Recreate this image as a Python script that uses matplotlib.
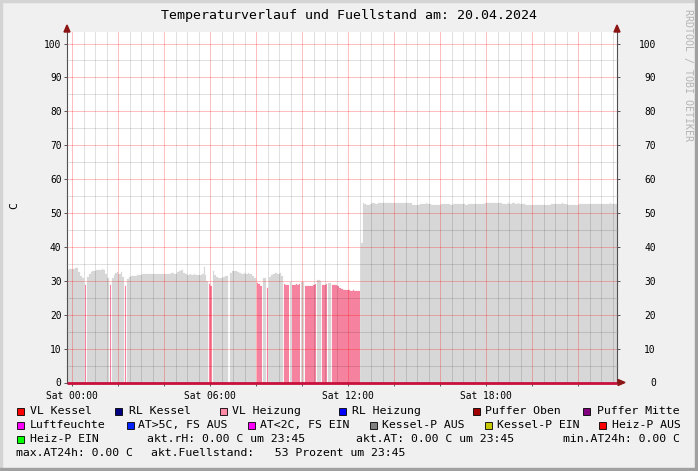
import numpy as np
import matplotlib
matplotlib.use('Agg')
import matplotlib.pyplot as plt
from matplotlib.patches import Rectangle, Polygon
from matplotlib.ticker import MultipleLocator

W, H = 698, 471
MONO = 'DejaVu Sans Mono'

titel = 'Temperaturverlauf und Fuellstand am: 20.04.2024'

# 5-Minuten-Werte ab 23:45 Vortag (Stunden relativ zu Sat 00:00)
start_h = -0.25
schritt_h = 5 / 60

# Zustand je Lauf: g = Kessel-P AUS (grau), p = VL Heizung (rosa), . = Luecke
lauf_zustand = ['g', 'p', 'g', 'p', 'g', 'p', 'g', 'p', 'g', '.', 'g', 'p', 'g',
                'p', 'g', 'p', 'g', 'p', 'g', 'p', 'g', 'p', 'g', 'p', 'g']
lauf_laenge = [9, 1, 12, 1, 7, 1, 43, 2, 8, 1, 14, 3, 2,
               1, 8, 3, 1, 5, 2, 6, 3, 3, 2, 15, 134]

# Temperatur (C) je 5-Minuten-Schritt
pegel = [
    33.6, 33.8, 33.8, 33.9, 34.1, 34.0, 33.0, 31.8, 31.2,
    29.2,
    31.5, 32.4, 32.9, 33.1, 33.2, 33.4, 33.5, 33.6, 33.7, 33.4, 32.3, 31.2,
    29.2,
    31.0, 32.0, 32.6, 32.8, 32.3, 32.8, 31.5,
    28.8,
    30.8, 31.3, 31.6, 31.7, 31.8, 31.9, 31.9, 32.0, 32.2, 32.2, 32.3, 32.3,
    32.2, 32.2, 32.3, 32.2, 32.3, 32.4, 32.3, 32.4, 32.3, 32.4, 32.2, 32.5,
    32.6, 32.4, 32.8, 33.3, 33.4, 33.9, 32.6, 32.3, 32.1, 32.2, 32.1, 32.2,
    32.0, 32.1, 31.9, 32.3, 34.5, 32.0, 30.2,
    29.3, 28.8,
    33.3, 32.0, 31.3, 31.0, 31.2, 31.5, 31.8, 31.6,
    np.nan,
    32.6, 33.1, 33.2, 33.2, 33.0, 32.6, 32.4, 32.5, 32.4, 32.5, 32.4, 32.2, 31.8, 31.0,
    29.5, 29.3, 28.8,
    31.0, 31.2,
    28.2,
    31.5, 31.9, 32.2, 32.5, 32.7, 32.4, 32.6, 31.8,
    29.3, 29.2, 29.0,
    30.0,
    29.2, 29.0, 29.3, 29.2, 29.4,
    29.8, 29.9,
    28.8, 28.9, 28.9, 28.9, 29.1, 29.3,
    30.4, 30.6, 30.3,
    29.2, 29.0, 29.3,
    29.5, 29.6,
    29.2, 29.1, 29.0, 28.9, 28.3, 27.9, 27.7, 27.6, 27.5, 27.5, 27.4, 27.5, 27.4, 27.3, 27.4,
    41.5,
    53.1, 53.0, 52.8, 52.8, 52.9,
    53.1, 53.1, 53.0, 53.1, 53.2, 53.1, 53.1,
    53.2, 53.2, 53.3, 53.2, 53.2, 53.3, 53.2, 53.2, 53.2, 53.3, 53.2, 53.2, 53.1, 53.2,
    52.8, 52.7, 52.7, 52.8, 52.9,
    53.0, 53.0, 53.1, 53.0, 52.9,
    52.7, 52.6, 52.6, 52.7, 52.8,
    52.9, 52.9, 53.0, 52.9, 52.9, 52.8, 52.9, 53.0, 52.9, 52.9, 52.9, 53.0,
    52.9, 52.8, 52.9, 52.9, 53.0, 53.0, 52.9, 52.9, 53.0, 52.9, 53.0,
    53.1, 53.1, 53.2, 53.1, 53.1, 53.1, 53.2, 53.1, 53.1, 53.0, 53.0, 52.9,
    53.1, 53.0, 53.1, 53.1, 53.0, 53.1, 53.0, 52.9, 52.9, 52.8, 52.8,
    52.7, 52.7, 52.6, 52.7, 52.7, 52.8, 52.7, 52.6, 52.7, 52.7, 52.8, 52.9,
    53.0, 53.0, 52.9, 53.0, 53.0, 53.1, 53.0, 52.9, 52.8,
    52.7, 52.7, 52.8, 52.7, 52.8,
    53.0, 53.0, 52.9, 53.0, 53.0, 53.0, 52.9, 53.0, 53.0, 53.1,
    53.0, 53.0, 52.9, 53.0, 53.0, 53.0, 53.1, 53.0, 53.0, 53.0,
]

# uebrige Fuehler stehen laut Legende auf 0.00 C
nullreihe_wert = 0.0

x_gitter = list(range(0, 24, 2))
x_labels = {0: 'Sat 00:00', 6: 'Sat 06:00', 12: 'Sat 12:00', 18: 'Sat 18:00'}

legende = [
    # (Zeile, x-Kaestchen, Farbe oder None, Text, x-Text)
    (0, 17, '#ff0000', 'VL Kessel', 30),
    (0, 115, '#000080', 'RL Kessel', 129),
    (0, 220, '#ff8aa8', 'VL Heizung', 232),
    (0, 339, '#0000ff', 'RL Heizung', 352),
    (0, 473, '#a00000', 'Puffer Oben', 485),
    (0, 583, '#800080', 'Puffer Mitte', 597),
    (1, 17, '#ff00ff', 'Luftfeuchte', 30),
    (1, 127, '#0022ff', 'AT>5C, FS AUS', 138),
    (1, 248, '#ff00ff', 'AT<2C, FS EIN', 260),
    (1, 370, '#808080', 'Kessel-P AUS', 382),
    (1, 485, '#c8c800', 'Kessel-P EIN', 497),
    (1, 599, '#ff0000', 'Heiz-P AUS', 612),
    (2, 17, '#00ff00', 'Heiz-P EIN', 30),
    (2, None, None, 'akt.rH: 0.00 C um 23:45', 147),
    (2, None, None, 'akt.AT: 0.00 C um 23:45', 356),
    (2, None, None, 'min.AT24h: 0.00 C', 563),
    (3, None, None, 'max.AT24h: 0.00 C', 16),
    (3, None, None, 'akt.Fuellstand:   53 Prozent um 23:45', 151),
]
zeilen_y = [411, 425, 439, 453]

farbe = {'g': '#d7d7d7', 'p': '#f5829e'}


def fx(x):
    return x / W


def fy(y):
    return 1 - y / H


fig = plt.figure(figsize=(W / 100, H / 100), dpi=100, facecolor='#f0f0f0')

# Rahmen
fig.patches.append(Rectangle((0, 0), fx(2), 1, transform=fig.transFigure, color='#d4d4d4', zorder=0))
fig.patches.append(Rectangle((0, fy(2)), 1, 2 / H, transform=fig.transFigure, color='#d4d4d4', zorder=0))
fig.patches.append(Rectangle((fx(695), 0), fx(3), 1, transform=fig.transFigure, color='#a0a0a0', zorder=0))
fig.patches.append(Rectangle((0, 0), 1, 3 / H, transform=fig.transFigure, color='#a0a0a0', zorder=0))

left, right, top, bottom = 67, 617, 32, 382.5
ax = fig.add_axes([fx(left), fy(bottom), (right - left) / W, (bottom - top) / H])
ax.set_facecolor('white')

h00 = 72.3
pxh = 23.0
ax.set_xlim((left - h00) / pxh, (right - h00) / pxh)
ylim = (0, (bottom - top) / 3.39)
ax.set_ylim(*ylim)

n = len(pegel)
t = start_h + np.arange(n + 1) * schritt_h
pegel_arr = np.array(pegel, dtype=float)

s = 0
for st, L in zip(lauf_zustand, lauf_laenge):
    if st in farbe:
        xs = t[s:s + L + 1]
        ys = np.append(pegel_arr[s:s + L], pegel_arr[s + L - 1])
        ax.fill_between(xs, 0, ys, step='post', facecolor=farbe[st],
                        edgecolor='white', linewidth=0.6, zorder=1.5)
    s += L

# Grundlinie aus allen 0-Reihen
ax.plot([t[0], t[-1]], [nullreihe_wert, nullreihe_wert], color='#c8103c',
        lw=2.0, zorder=4, clip_on=False, solid_capstyle='butt')

# Gitter
ax.set_xticks(x_gitter)
ax.set_xticklabels([x_labels.get(v, '') for v in x_gitter], fontfamily=MONO)
ax.xaxis.set_minor_locator(MultipleLocator(0.5))
ax.yaxis.set_major_locator(MultipleLocator(10))
ax.yaxis.set_minor_locator(MultipleLocator(5))
ax.set_axisbelow(False)
ax.grid(which='minor', color='black', alpha=0.12, lw=0.72)
ax.grid(which='major', color='red', alpha=0.25, lw=0.72)

ax.tick_params(which='major', direction='out', length=2, width=0.7, color='#555555',
               labelsize=6.9, pad=2)
ax.tick_params(which='minor', direction='out', length=1, width=0.5, color='#aaaaaa')
ax.tick_params(axis='x', pad=4)
for lab in ax.get_yticklabels():
    lab.set_fontfamily(MONO)

# rechte Achse, Beschriftung rechtsbuendig bei ca. x=655
ax2 = ax.twinx()
ax2.set_ylim(*ylim)
ax2.yaxis.set_major_locator(MultipleLocator(10))
ax2.yaxis.set_minor_locator(MultipleLocator(5))
ax2.tick_params(which='major', direction='out', length=2, width=0.7, color='#555555',
                labelsize=6.9, pad=(655 - right - 2) * 0.72)
ax2.tick_params(which='minor', direction='out', length=1, width=0.5, color='#aaaaaa')
for lab in ax2.get_yticklabels():
    lab.set_fontfamily(MONO)
    lab.set_horizontalalignment('right')
for sp in ax2.spines.values():
    sp.set_visible(False)
ax2.patch.set_visible(False)

for sp in ['left', 'bottom', 'right']:
    ax.spines[sp].set_color('#505050')
    ax.spines[sp].set_linewidth(0.8)
ax.spines['top'].set_visible(False)

# Pfeile
pfeil = '#8b1414'
for xa in (left, right):
    fig.patches.append(Polygon([(fx(xa), fy(25)), (fx(xa - 3), fy(32)), (fx(xa + 3), fy(32))],
                               closed=True, transform=fig.transFigure, color=pfeil, zorder=5))
    fig.lines.append(plt.Line2D([fx(xa), fx(xa)], [fy(32), fy(27)], transform=fig.transFigure,
                                color='#505050', lw=0.8))
fig.patches.append(Polygon([(fx(625), fy(bottom)), (fx(618), fy(bottom - 3)), (fx(618), fy(bottom + 3))],
                           closed=True, transform=fig.transFigure, color=pfeil, zorder=5))

# Texte
fig.text(fx(349), fy(16), titel, ha='center', va='center', fontsize=9.5, family=MONO)
fig.text(fx(14), fy(206), 'C', ha='center', va='center', rotation=90, fontsize=8.25, family=MONO)
fig.text(fx(688), fy(75), 'RRDTOOL / TOBI OETIKER', ha='center', va='center', rotation=-90,
         fontsize=7.2, family=MONO, color='#b4b4b4')

for zeile, xq, col, txt, xt_ in legende:
    yc = zeilen_y[zeile]
    if col is not None:
        fig.patches.append(Rectangle((fx(xq), fy(yc + 4)), 7 / W, 7 / H, transform=fig.transFigure,
                                     facecolor=col, edgecolor='black', lw=0.6, zorder=5))
    fig.text(fx(xt_), fy(yc), txt, ha='left', va='center', fontsize=8.25, family=MONO)

fig.savefig('out.png', dpi=100, facecolor=fig.get_facecolor())
